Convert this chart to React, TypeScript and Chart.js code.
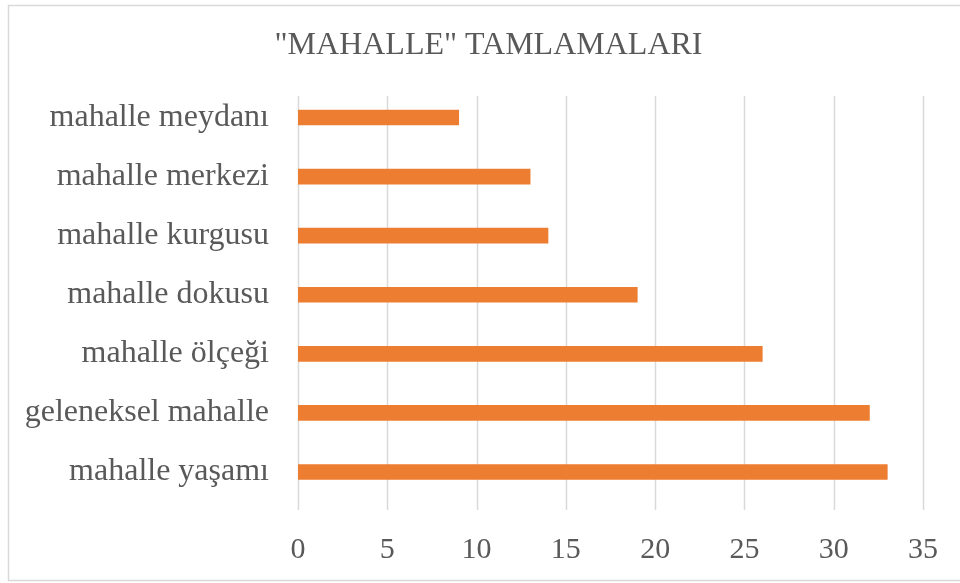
import React, { useEffect, useRef } from "react";
import { Chart, registerables } from "chart.js";

Chart.register(...registerables);

const categories = [
  "mahalle meydanı",
  "mahalle merkezi",
  "mahalle kurgusu",
  "mahalle dokusu",
  "mahalle ölçeği",
  "geleneksel mahalle",
  "mahalle yaşamı",
];
const counts = [9, 13, 14, 19, 26, 32, 33];
const titleText = '"MAHALLE" TAMLAMALARI';
const xMin = 0;
const xMax = 35;
const xStep = 5;

const FONT = "'Liberation Serif', 'Times New Roman', serif";
const TEXT = "#595959";
const GRID = "#d9d9d9";
const BAR = "#ED7D31";

const frame = {
  id: "frame",
  afterLayout(chart: any) {
    const tb = chart.titleBlock;
    if (tb) {
      tb.left = 54;
      tb.right = 923;
      tb.width = tb.right - tb.left;
    }
  },
  beforeDraw(chart: any) {
    const ctx = chart.ctx;
    ctx.save();
    ctx.fillStyle = "#ffffff";
    ctx.fillRect(0, 0, chart.width, chart.height);
    ctx.strokeStyle = GRID;
    ctx.lineWidth = 1.5;
    ctx.strokeRect(8.5, 5.5, chart.width + 10, 575);
    ctx.restore();
  },
  beforeDatasetsDraw(chart: any) {
    const ctx = chart.ctx;
    const x = chart.scales.x;
    const top = chart.chartArea.top + 8;
    const bottom = chart.chartArea.bottom + 8.5;
    ctx.save();
    ctx.strokeStyle = GRID;
    ctx.lineWidth = 1.5;
    x.ticks.forEach((t: any) => {
      const px = Math.round(x.getPixelForValue(t.value)) + 0.5;
      ctx.beginPath();
      ctx.moveTo(px, top);
      ctx.lineTo(px, bottom);
      ctx.stroke();
    });
    ctx.restore();
  },
};

export default function App() {
  const ref = useRef<HTMLCanvasElement | null>(null);
  useEffect(() => {
    if (!ref.current) return;
    const chart = new Chart(ref.current, {
      type: "bar",
      data: {
        labels: categories,
        datasets: [
          {
            data: counts,
            backgroundColor: BAR,
            borderWidth: 0,
            barThickness: 15,
          },
        ],
      },
      options: {
        indexAxis: "y",
        animation: false,
        responsive: false,
        layout: { padding: { left: 0, right: 37, top: 0, bottom: 0 } },
        plugins: {
          legend: { display: false },
          tooltip: { enabled: false },
          title: {
            display: true,
            text: titleText,
            color: TEXT,
            font: { family: FONT, size: 32, weight: "normal", lineHeight: 1.2 },
            padding: { top: 26, bottom: 23.6 },
          },
        },
        scales: {
          x: {
            min: xMin,
            max: xMax,
            ticks: {
              stepSize: xStep,
              color: TEXT,
              font: { family: FONT, size: 30 },
              padding: 30.5,
            },
            grid: { display: false, drawTicks: false },
            border: { display: false },
            afterFit: (s: any) => {
              s.height = 81.5;
              s.paddingLeft = 0;
              s.paddingRight = 0;
            },
          },
          y: {
            ticks: {
              color: TEXT,
              font: { family: FONT, size: 32 },
              padding: 29,
            },
            grid: { display: false, drawTicks: false },
            border: { display: false },
            afterFit: (s: any) => {
              s.width = 298;
            },
          },
        },
      },
      plugins: [frame],
    });
    return () => chart.destroy();
  }, []);
  return (
    <div style={{ position: "fixed", left: 0, top: 0, width: 960, height: 583 }}>
      <canvas ref={ref} width={960} height={583} style={{ display: "block" }} />
    </div>
  );
}
